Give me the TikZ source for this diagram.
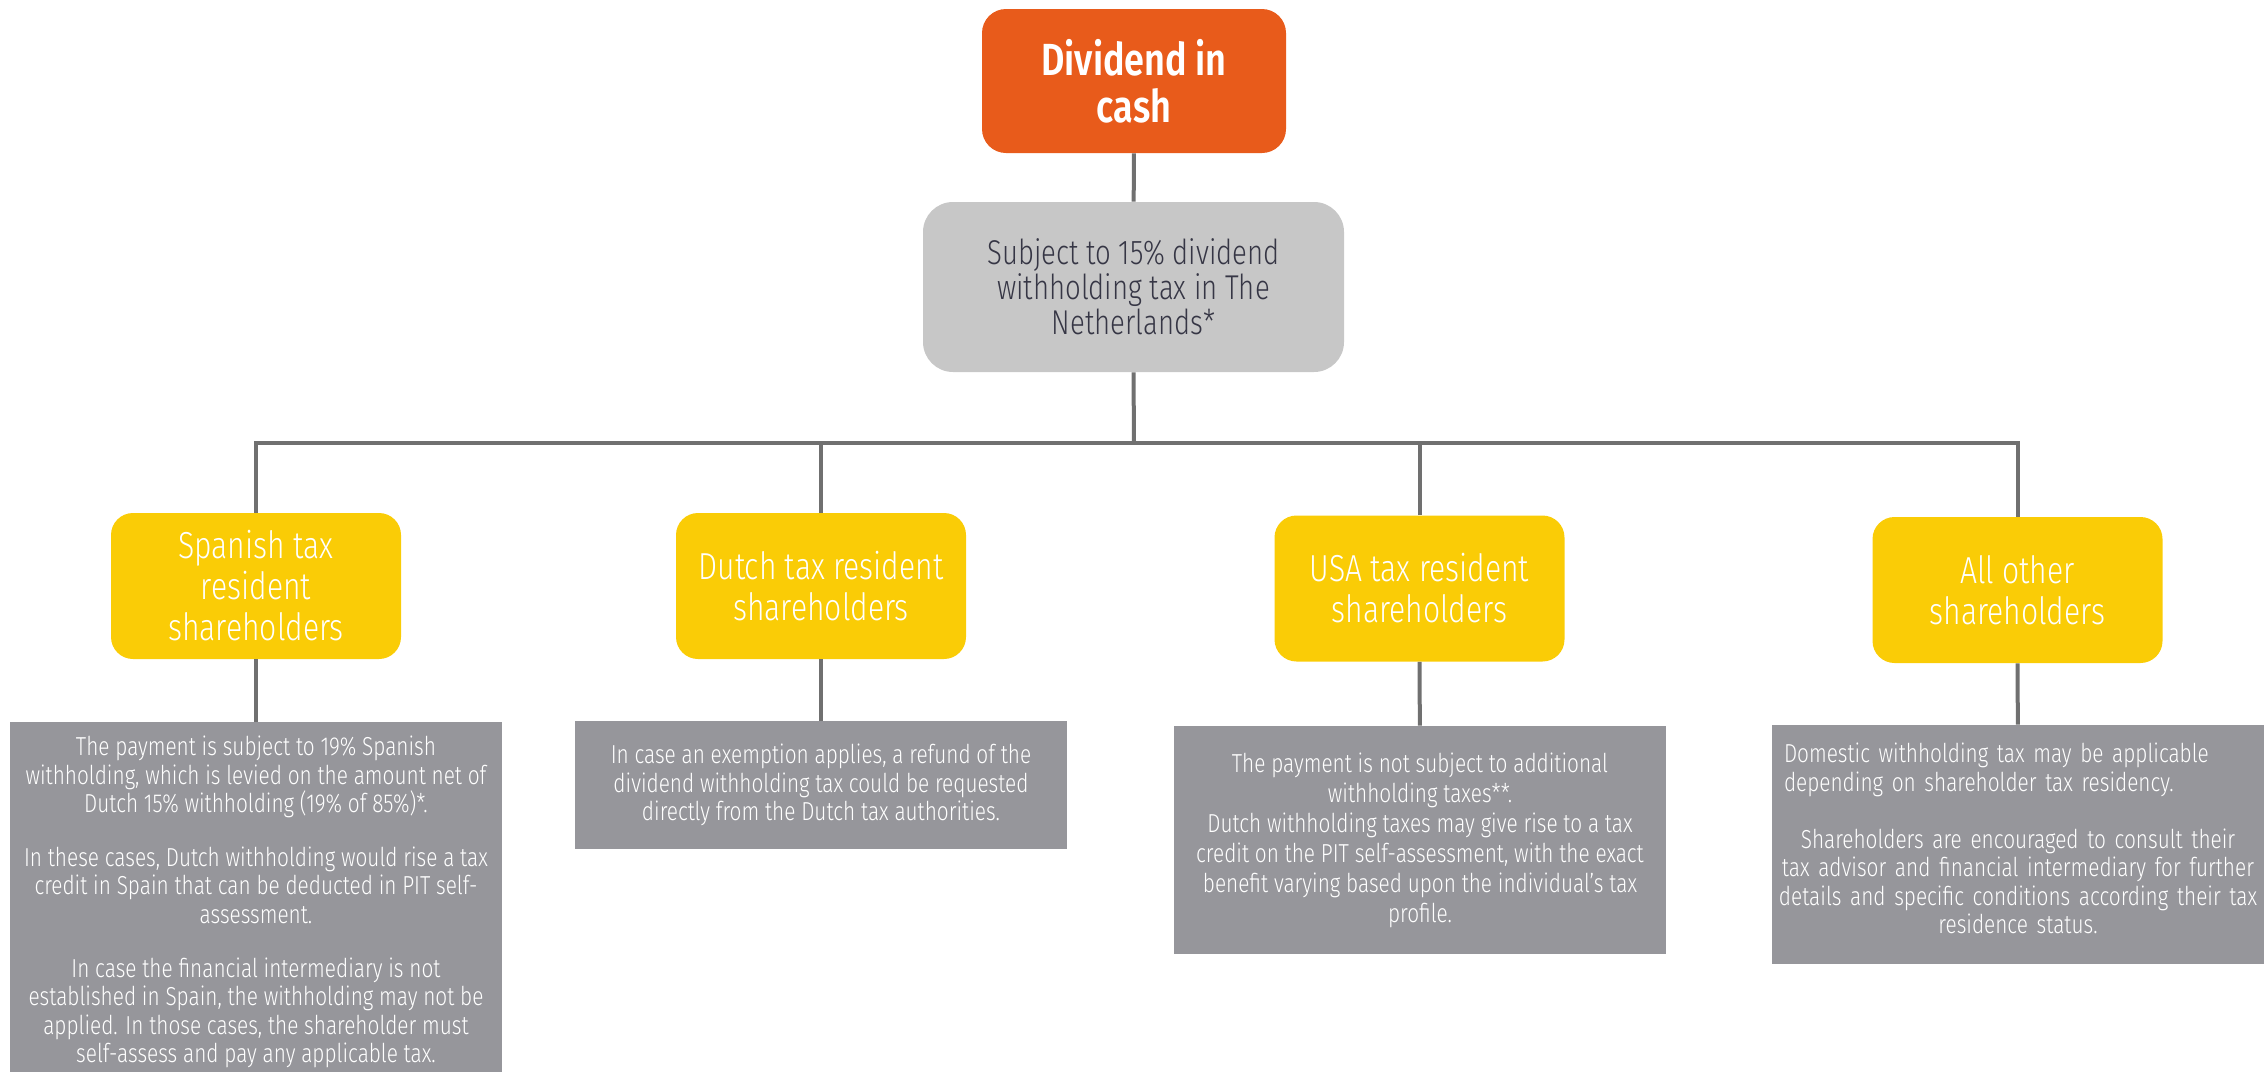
\documentclass[tikz,border=0pt]{standalone}
\usepackage{fontspec}
\setmainfont{Fira Sans}[UprightFont=* Light, BoldFont=* SemiBold, FakeStretch=0.8]
\usetikzlibrary{positioning}
\definecolor{ingorange}{HTML}{E85B1B}
\definecolor{taxgrey}{HTML}{C7C7C7}
\definecolor{taxtext}{HTML}{363645}
\definecolor{ingyellow}{HTML}{FACC06}
\definecolor{notegrey}{HTML}{96969B}
\definecolor{linkgrey}{HTML}{707070}

\begin{document}
\begin{tikzpicture}[x=0.5pt,y=-0.5pt,
  box/.style={rounded corners=12pt,align=center,inner sep=0pt},
  topbox/.style={box,fill=ingorange,text=white,minimum width=152pt,minimum height=72pt,font=\bfseries\fontsize{22.5}{23.5}\selectfont},
  taxbox/.style={box,rounded corners=15pt,fill=taxgrey,text=taxtext,minimum width=210.5pt,minimum height=85pt,font=\fontsize{17.2}{17.5}\selectfont},
  group/.style={box,rounded corners=11pt,fill=ingyellow,text=white,minimum width=145pt,minimum height=73pt,font=\fontsize{18.8}{20.5}\selectfont},
  note/.style={fill=notegrey,text=white,inner sep=0pt,minimum width=246pt,align=center,font=\fontsize{13}{14.2}\selectfont},
  link/.style={draw=linkgrey,line width=2pt}]
   \useasboundingbox (0,0) rectangle (2264,1071);

   \node[topbox] (cash) at (1134,81) {Dividend in\\cash};
   \node[taxbox] (tax) at (1133.5,287) {Subject to 15\% dividend\\withholding tax in The\\Netherlands*};

   \node[group] (spa) at (256,586) {Spanish tax\\resident\\shareholders};
   \node[group] (dut) at (821,586) {Dutch tax resident\\shareholders};
   \node[group] (usa) at (1419.5,588.5) {USA tax resident\\shareholders};
   \node[group] (oth) at (2017.5,590) {All other\\shareholders};

   \node[note,minimum height=180pt] (spanote) at (256,902) {The payment is subject to 19\% Spanish\\withholding, which is levied on the amount net of\\Dutch 15\% withholding (19\% of 85\%)*.\\[12.8pt]In these cases, Dutch withholding would rise a tax\\credit in Spain that can be deducted in PIT self-\\assessment.\\[12.8pt]In case the financial intermediary is not\\established in Spain, the withholding may not be\\applied. In those cases, the shareholder must\\self-assess and pay any applicable tax.};
   \node[note,minimum height=64pt] (dutnote) at (821,785) {In case an exemption applies, a refund of the\\dividend withholding tax could be requested\\directly from the Dutch tax authorities.};
   \node[note,minimum height=114pt,font=\fontsize{13}{15}\selectfont] (usanote) at (1420,840) {The payment is not subject to additional\\withholding taxes**.\\Dutch withholding taxes may give rise to a tax\\credit on the PIT self-assessment, with the exact\\benefit varying based upon the individual’s tax\\profile.};
   \node[note,minimum height=119.5pt,text width=242pt,align=left] (othnote) at (2018,844.5) {{\leftskip=4pt Domestic withholding tax may be applicable\\depending on shareholder tax residency.\par}\vspace{14.5pt}{\centering Shareholders are encouraged to consult their\\tax advisor and financial intermediary for further\\details and specific conditions according their tax\\residence status.\par}\vspace{6pt}};

   \coordinate (bus) at (1134,443);
   \path[link] (cash) edge (tax);
   \draw[link] (tax.south) -- (bus);
   \draw[link] (spa.north) |- (bus) -| (oth.north);
   \draw[link] (dut.north) -- (dut.north |- bus);
   \draw[link] (usa.north) -- (usa.north |- bus);

   \path[link] (spa) edge (spanote)
               (dut) edge (dutnote)
               (usa) edge (usanote)
               (oth) edge (othnote);
\end{tikzpicture}
\end{document}
